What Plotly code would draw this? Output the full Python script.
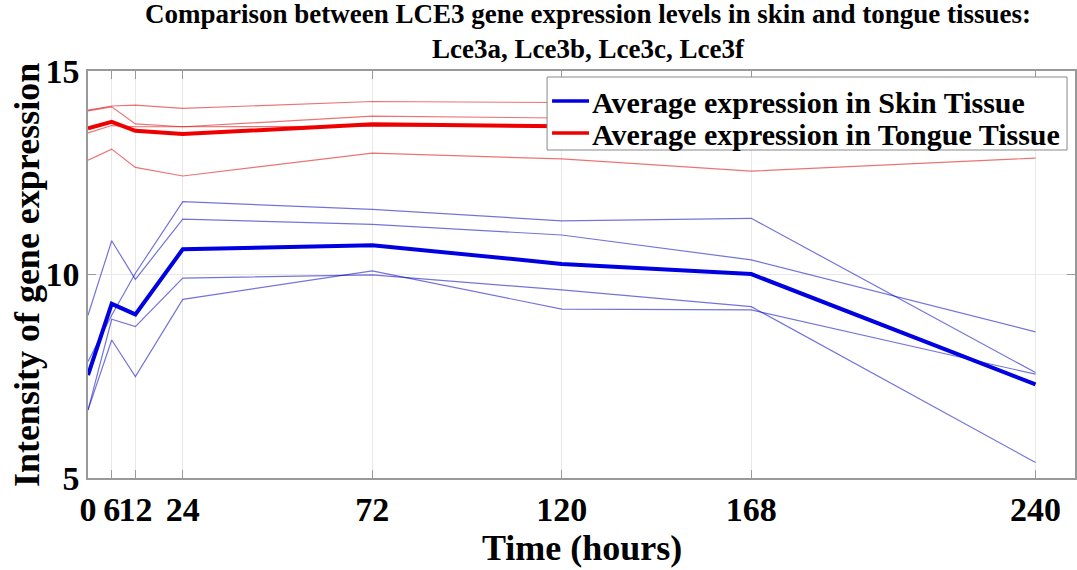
import plotly.graph_objects as go

hours = [0, 6, 12, 24, 72, 120, 168, 240]

skin_lce3a = [9.00, 10.83, 9.88, 11.36, 11.23, 10.97, 10.36, 8.59]
skin_lce3b = [7.86, 9.00, 10.03, 11.79, 11.60, 11.32, 11.38, 7.59]
skin_lce3c = [6.67, 8.90, 8.72, 9.91, 9.99, 9.62, 9.21, 5.38]
skin_lce3f = [6.67, 8.39, 7.49, 9.39, 10.09, 9.15, 9.13, 7.55]
skin_avg = [7.53, 9.28, 9.02, 10.62, 10.72, 10.26, 10.01, 7.30]

tongue_lce3a = [14.04, 14.14, 14.16, 14.08, 14.25, 14.23, 14.20, 14.25]
tongue_lce3b = [14.02, 14.12, 13.70, 13.63, 13.89, 13.84, 13.80, 13.85]
tongue_lce3c = [13.48, 13.66, 13.63, 13.63, 13.64, 13.65, 13.65, 13.70]
tongue_lce3f = [12.81, 13.08, 12.63, 12.42, 12.98, 12.84, 12.54, 12.86]
tongue_avg = [13.59, 13.75, 13.53, 13.45, 13.69, 13.64, 13.55, 13.66]

x_ticks = [0, 6, 12, 24, 72, 120, 168, 240]
y_ticks = [5, 10, 15]

skin_name = "Average expression in Skin Tissue"
tongue_name = "Average expression in Tongue Tissue"
title_line1 = "Comparison between LCE3 gene expression levels in skin and tongue tissues:"
title_line2 = "Lce3a, Lce3b, Lce3c, Lce3f"
SKIN_COLOR = "#0000e0"
TONGUE_COLOR = "#ee0000"

FONT = "Liberation Serif"
W, H = 1077, 570
L, R, T, B = 88, 0, 71, 92
PW, PH = W - L - R, H - T - B


def px(xp):
    return (xp - L) / PW


def py(yp):
    return (H - B - yp) / PH


fig = go.Figure()

for s in [skin_lce3a, skin_lce3b, skin_lce3c, skin_lce3f]:
    fig.add_trace(go.Scatter(x=hours, y=s, mode="lines", showlegend=False,
                             line=dict(color="rgba(0,0,190,0.55)", width=1.2)))
for s in [tongue_lce3a, tongue_lce3b, tongue_lce3c, tongue_lce3f]:
    fig.add_trace(go.Scatter(x=hours, y=s, mode="lines", showlegend=False,
                             line=dict(color="rgba(220,0,0,0.55)", width=1.2)))

fig.add_trace(go.Scatter(x=hours, y=skin_avg, mode="lines", name=skin_name,
                         showlegend=False, line=dict(color=SKIN_COLOR, width=4)))
fig.add_trace(go.Scatter(x=hours, y=tongue_avg, mode="lines", name=tongue_name,
                         showlegend=False, line=dict(color=TONGUE_COLOR, width=4)))

# Legend box (drawn above the data, MATLAB style)
shapes = [
    dict(type="rect", xref="paper", yref="paper",
         x0=px(548), x1=px(1069), y0=py(150), y1=py(77),
         fillcolor="white", line=dict(color="#888888", width=1), layer="above"),
]
annotations = []
for name, color, yy in [(skin_name, SKIN_COLOR, 101), (tongue_name, TONGUE_COLOR, 133)]:
    shapes.append(dict(type="line", xref="paper", yref="paper",
                       x0=px(553), x1=px(590), y0=py(yy), y1=py(yy),
                       line=dict(color=color, width=3.5), layer="above"))
    annotations.append(dict(text=name, xref="paper", yref="paper",
                            x=px(591), y=py(yy + 1), xanchor="left", yanchor="middle",
                            showarrow=False,
                            font=dict(family=FONT, size=30, weight="bold", color="black")))

# Title
annotations.append(dict(
    text=title_line1 + "<br>" + title_line2, xref="paper", yref="paper",
    x=px(589), y=py(32), xanchor="center", yanchor="middle", showarrow=False,
    font=dict(family=FONT, size=27, weight="bold", color="black")))

# Axis titles
annotations.append(dict(text="Time (hours)", xref="paper", yref="paper",
                        x=px(583), y=py(548), xanchor="center", yanchor="middle",
                        showarrow=False,
                        font=dict(family=FONT, size=36, weight="bold", color="black")))
annotations.append(dict(text="Intensity of gene expression", xref="paper", yref="paper",
                        x=px(27), y=py(275), xanchor="center", yanchor="middle",
                        textangle=-90, showarrow=False,
                        font=dict(family=FONT, size=36, weight="bold", color="black")))

fig.update_layout(
    width=W, height=H,
    margin=dict(l=L, r=R, t=T, b=B),
    paper_bgcolor="white", plot_bgcolor="white",
    font=dict(family=FONT, color="black"),
    showlegend=False,
    shapes=shapes,
    annotations=annotations,
    xaxis=dict(range=[0, 250], tickvals=x_ticks, ticktext=[str(v) for v in x_ticks],
               tickangle=0,
               showgrid=True, gridcolor="#e8e8e8", gridwidth=1,
               showline=True, linecolor="#999999", linewidth=1.5, mirror="ticks",
               ticks="inside", ticklen=8, tickcolor="#999999",
               tickfont=dict(family=FONT, size=34, weight="bold", color="black"),
               zeroline=False),
    yaxis=dict(range=[5, 15], tickvals=y_ticks,
               showgrid=True, gridcolor="#e8e8e8", gridwidth=1,
               showline=True, linecolor="#999999", linewidth=1.5, mirror="ticks",
               ticks="inside", ticklen=8, tickcolor="#999999",
               tickfont=dict(family=FONT, size=34, weight="bold", color="black"),
               zeroline=False),
)

fig.write_html("out.html")
